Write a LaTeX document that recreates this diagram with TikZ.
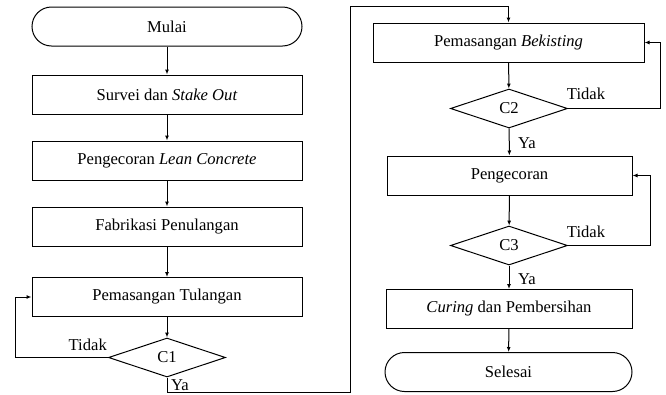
\documentclass[tikz,border=0pt]{standalone}
\usepackage{fontspec}
\setmainfont{Liberation Serif}
\usetikzlibrary{shapes.geometric,arrows.meta}
\begin{document}
\begin{tikzpicture}[x=1pt,y=-1pt,
  every node/.style={font=\fontsize{16.6}{20}\selectfont, inner sep=0pt},
  procbox/.style={draw, line width=1pt, minimum height=39pt},
  termbox/.style={draw, line width=1pt, minimum height=39pt, rounded corners=19.5pt},
  decision/.style={draw, line width=1pt, diamond, aspect=3, minimum width=117pt, minimum height=39pt},
  link/.style={line width=1pt},
  arr/.style={link, -{Latex[length=5pt,width=4pt]}},
  lbl/.style={font=\fontsize{16.6}{20}\selectfont}]
\useasboundingbox (0,0) rectangle (666,394);

% left column
\node[termbox, minimum width=270pt] (mulai) at (167,26.5) {Mulai};
\node[procbox, minimum width=270pt] (survei) at (167,94.5) {Survei dan \textit{Stake Out}};
\node[procbox, minimum width=270pt] (lean) at (167,160.5) {Pengecoran \textit{Lean Concrete}};
\node[procbox, minimum width=270pt] (fab) at (167,226.5) {Fabrikasi Penulangan};
\node[procbox, minimum width=270pt] (tul) at (167,297) {Pemasangan Tulangan};
\node[decision] (c1) at (167,357.5) {C1};

% right column
\node[procbox, minimum width=271pt] (bek) at (508.5,42.5) {Pemasangan \textit{Bekisting}};
\node[decision] (c2) at (509,108.5) {C2};
\node[procbox, minimum width=245pt] (peng) at (509.5,175.5) {Pengecoran};
\node[decision] (c3) at (509,245.5) {C3};
\node[procbox, minimum width=246pt] (cur) at (509,309) {\textit{Curing} dan Pembersihan};
\node[termbox, minimum width=247pt] (sel) at (508.5,372) {Selesai};

% routing points
\coordinate (l1) at (15,357.5);
\coordinate (b1) at (350.7,392.7);
\coordinate (t1) at (350.7,6.7);
\coordinate (r2) at (660.7,108.5);
\coordinate (r3) at (650,245.5);

% main flow
\draw[arr] (mulai) -- (survei);
\draw[arr] (survei) -- (lean);
\draw[arr] (lean) -- (fab);
\draw[arr] (fab) -- (tul);
\draw[arr] (tul) -- (c1);
\draw[arr] (c1.west) -- (l1) |- (tul.west);
\draw[arr] (c1.south) |- (b1) -- (t1) -| (bek.north);
\draw[arr] (bek) -- (c2);
\draw[arr] (c2.east) -- (r2) |- (bek.east);
\draw[arr] (c2) -- (peng);
\draw[arr] (peng) -- (c3);
\draw[arr] (c3.east) -- (r3) |- (peng.east);
\draw[arr] (c3) -- (cur);
\draw[arr] (cur) -- (sel);

% branch labels
\node[lbl, anchor=south east] (t1lbl) at (107,351) {Tidak};
\node[lbl] (y1lbl) at (180,385) {Ya};
\node[lbl] (t2lbl) at (586,94) {Tidak};
\node[lbl] (y2lbl) at (527,143) {Ya};
\node[lbl] (t3lbl) at (586,232) {Tidak};
\node[lbl] (y3lbl) at (527,279) {Ya};
\end{tikzpicture}
\end{document}
